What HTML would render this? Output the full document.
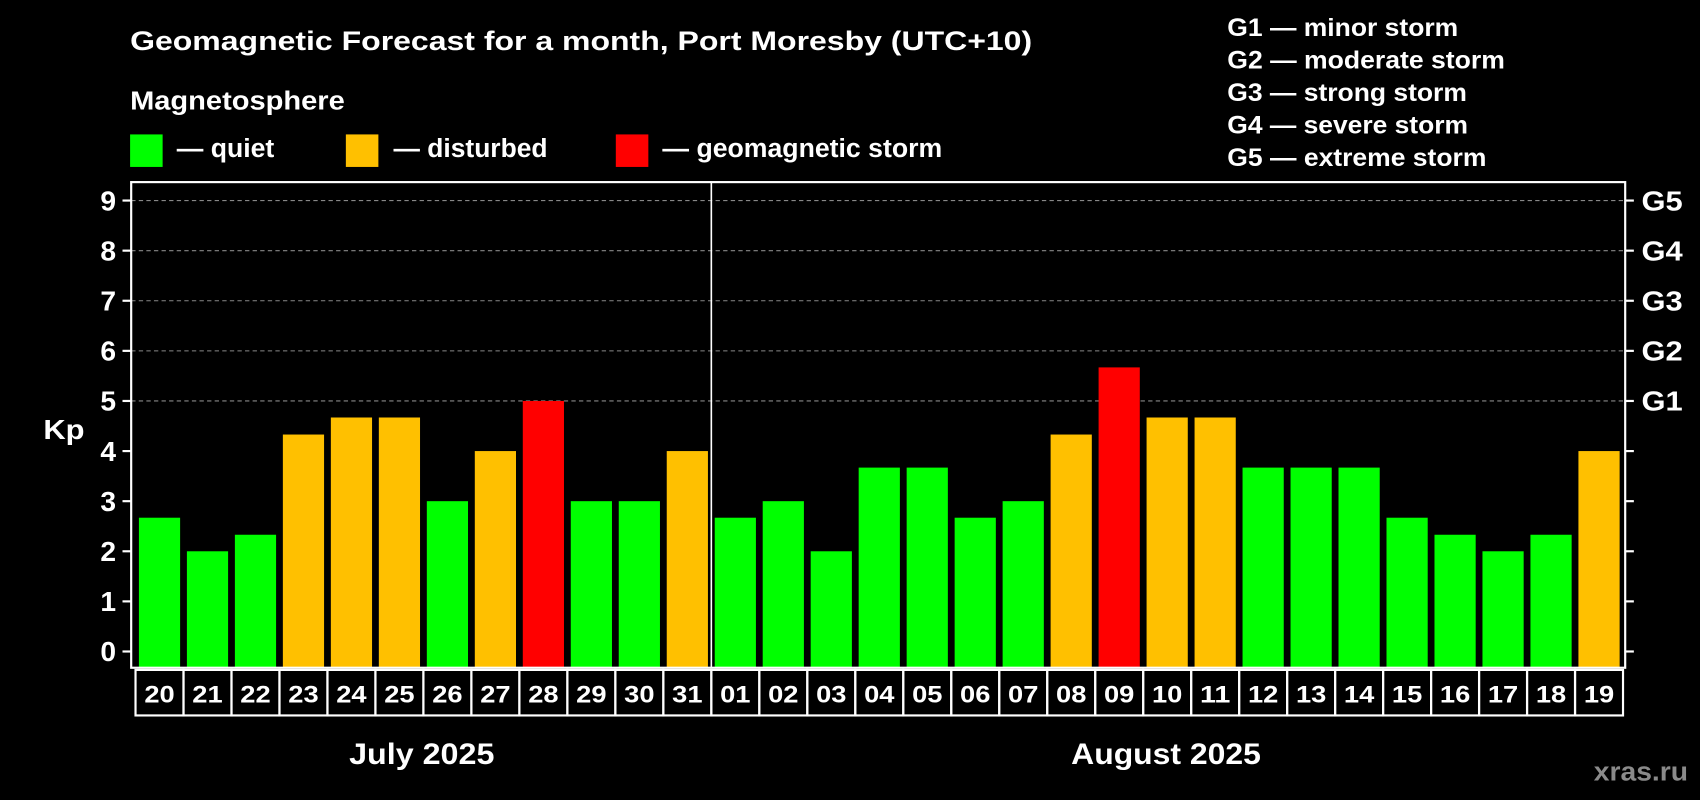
<!DOCTYPE html>
<html><head><meta charset="utf-8"><style>
html,body{margin:0;padding:0;background:#000;}
svg{display:block;}
text{font-family:"Liberation Sans",Arial,sans-serif;font-weight:bold;fill:#fff;}
</style></head>
<body>
<svg id="chart" width="1700" height="800" viewBox="0 0 1568 738" preserveAspectRatio="none" xmlns="http://www.w3.org/2000/svg">
<rect x="0" y="0" width="1568" height="738" fill="#000"/>
<text x="120" y="46" font-size="25" textLength="832" lengthAdjust="spacingAndGlyphs">Geomagnetic Forecast for a month, Port Moresby (UTC+10)</text>
<text x="120" y="101" font-size="24" textLength="198" lengthAdjust="spacingAndGlyphs">Magnetosphere</text>
<rect x="120" y="124" width="30" height="30" fill="#00ff00"/>
<text x="163" y="145" font-size="24" textLength="90" lengthAdjust="spacingAndGlyphs">— quiet</text>
<rect x="319" y="124" width="30" height="30" fill="#ffc000"/>
<text x="363" y="145" font-size="24" textLength="142" lengthAdjust="spacingAndGlyphs">— disturbed</text>
<rect x="568" y="124" width="30" height="30" fill="#ff0000"/>
<text x="611" y="145" font-size="24" textLength="258" lengthAdjust="spacingAndGlyphs">— geomagnetic storm</text>
<g font-size="23">
<text x="1132" y="33" textLength="213" lengthAdjust="spacingAndGlyphs">G1 — minor storm</text>
<text x="1132" y="63" textLength="256" lengthAdjust="spacingAndGlyphs">G2 — moderate storm</text>
<text x="1132" y="93" textLength="221" lengthAdjust="spacingAndGlyphs">G3 — strong storm</text>
<text x="1132" y="123" textLength="222" lengthAdjust="spacingAndGlyphs">G4 — severe storm</text>
<text x="1132" y="153" textLength="239" lengthAdjust="spacingAndGlyphs">G5 — extreme storm</text>
</g>
<text x="40" y="405" font-size="26" textLength="38" lengthAdjust="spacingAndGlyphs">Kp</text>
<g id="plot"></g>
<text x="322" y="705" font-size="27" textLength="134" lengthAdjust="spacingAndGlyphs">July 2025</text>
<text x="988" y="705" font-size="27" textLength="175" lengthAdjust="spacingAndGlyphs">August 2025</text>
<text x="1470" y="720" font-size="25" textLength="87" lengthAdjust="spacingAndGlyphs" style="fill:#8a8a8a">xras.ru</text>
</svg>
<script>
const days = ["20","21","22","23","24","25","26","27","28","29","30","31","01","02","03","04","05","06","07","08","09","10","11","12","13","14","15","16","17","18","19"];
const kpValues = [2.67,2,2.33,4.33,4.67,4.67,3,4,5,3,3,4,2.67,3,2,3.67,3.67,2.67,3,4.33,5.67,4.67,4.67,3.67,3.67,3.67,2.67,2.33,2,2.33,4];
const yTicks = [0,1,2,3,4,5,6,7,8,9];
const gLabels = ["G1","G2","G3","G4","G5"];
const gLevels = [5,6,7,8,9];
const monthSplit = 12;

const NS = "http://www.w3.org/2000/svg";
const plot = document.getElementById("plot");
const L = 121, R = 1499, T = 168, B = 616;
const cellL = 125, cellR = 1497;
const cw = (cellR - cellL) / days.length;
const yScale = v => 601 - v * (601 - 185) / 9;
const xCenter = i => cellL + (i + 0.5) * cw;
function mk(tag, attrs){const e=document.createElementNS(NS,tag);for(const k in attrs)e.setAttribute(k,attrs[k]);plot.appendChild(e);return e;}
function colorFor(v){return v>=5?"#ff0000":(v>=4?"#ffc000":"#00ff00");}

gLevels.forEach(v=>{
  const g = mk("line",{x1:L,x2:R,y1:yScale(v),y2:yScale(v),stroke:"#888","stroke-width":1,"stroke-dasharray":"4,3"});
  
  
});
kpValues.forEach((v,i)=>{
  const b = mk("rect",{x:xCenter(i)-19,y:yScale(v),width:38,height:B-yScale(v),fill:colorFor(v)});
  
  
});
const fr = mk("rect",{x:L,y:T,width:R-L,height:B-T,fill:"none",stroke:"#fff","stroke-width":2});


const dv = mk("line",{x1:cellL+monthSplit*cw,x2:cellL+monthSplit*cw,y1:T,y2:B,stroke:"#fff","stroke-width":1.5});


yTicks.forEach(v=>{
  const y = yScale(v);
  const t = mk("line",{x1:L-8,x2:L,y1:y,y2:y,stroke:"#fff","stroke-width":2});
  
  
  const t2 = mk("line",{x1:R,x2:R+8,y1:y,y2:y,stroke:"#fff","stroke-width":2});
  
  
  const lb = mk("text",{x:L-14,y:y+9,"font-size":26,"text-anchor":"end"});
  lb.textContent = v;
  
  
});
gLevels.forEach((v,i)=>{
  const lb = mk("text",{x:R+15,y:yScale(v)+9,"font-size":26,textLength:38,lengthAdjust:"spacingAndGlyphs"});
  lb.textContent = gLabels[i];
  
  
});
days.forEach((d,i)=>{
  const c = mk("rect",{x:cellL+i*cw,y:618,width:cw,height:42,fill:"none",stroke:"#fff","stroke-width":2});
  
  
  const t = mk("text",{x:xCenter(i),y:648,"font-size":22,"text-anchor":"middle",textLength:28,lengthAdjust:"spacingAndGlyphs"});
  t.textContent = d;
  
  
});
</script>
</body></html>
